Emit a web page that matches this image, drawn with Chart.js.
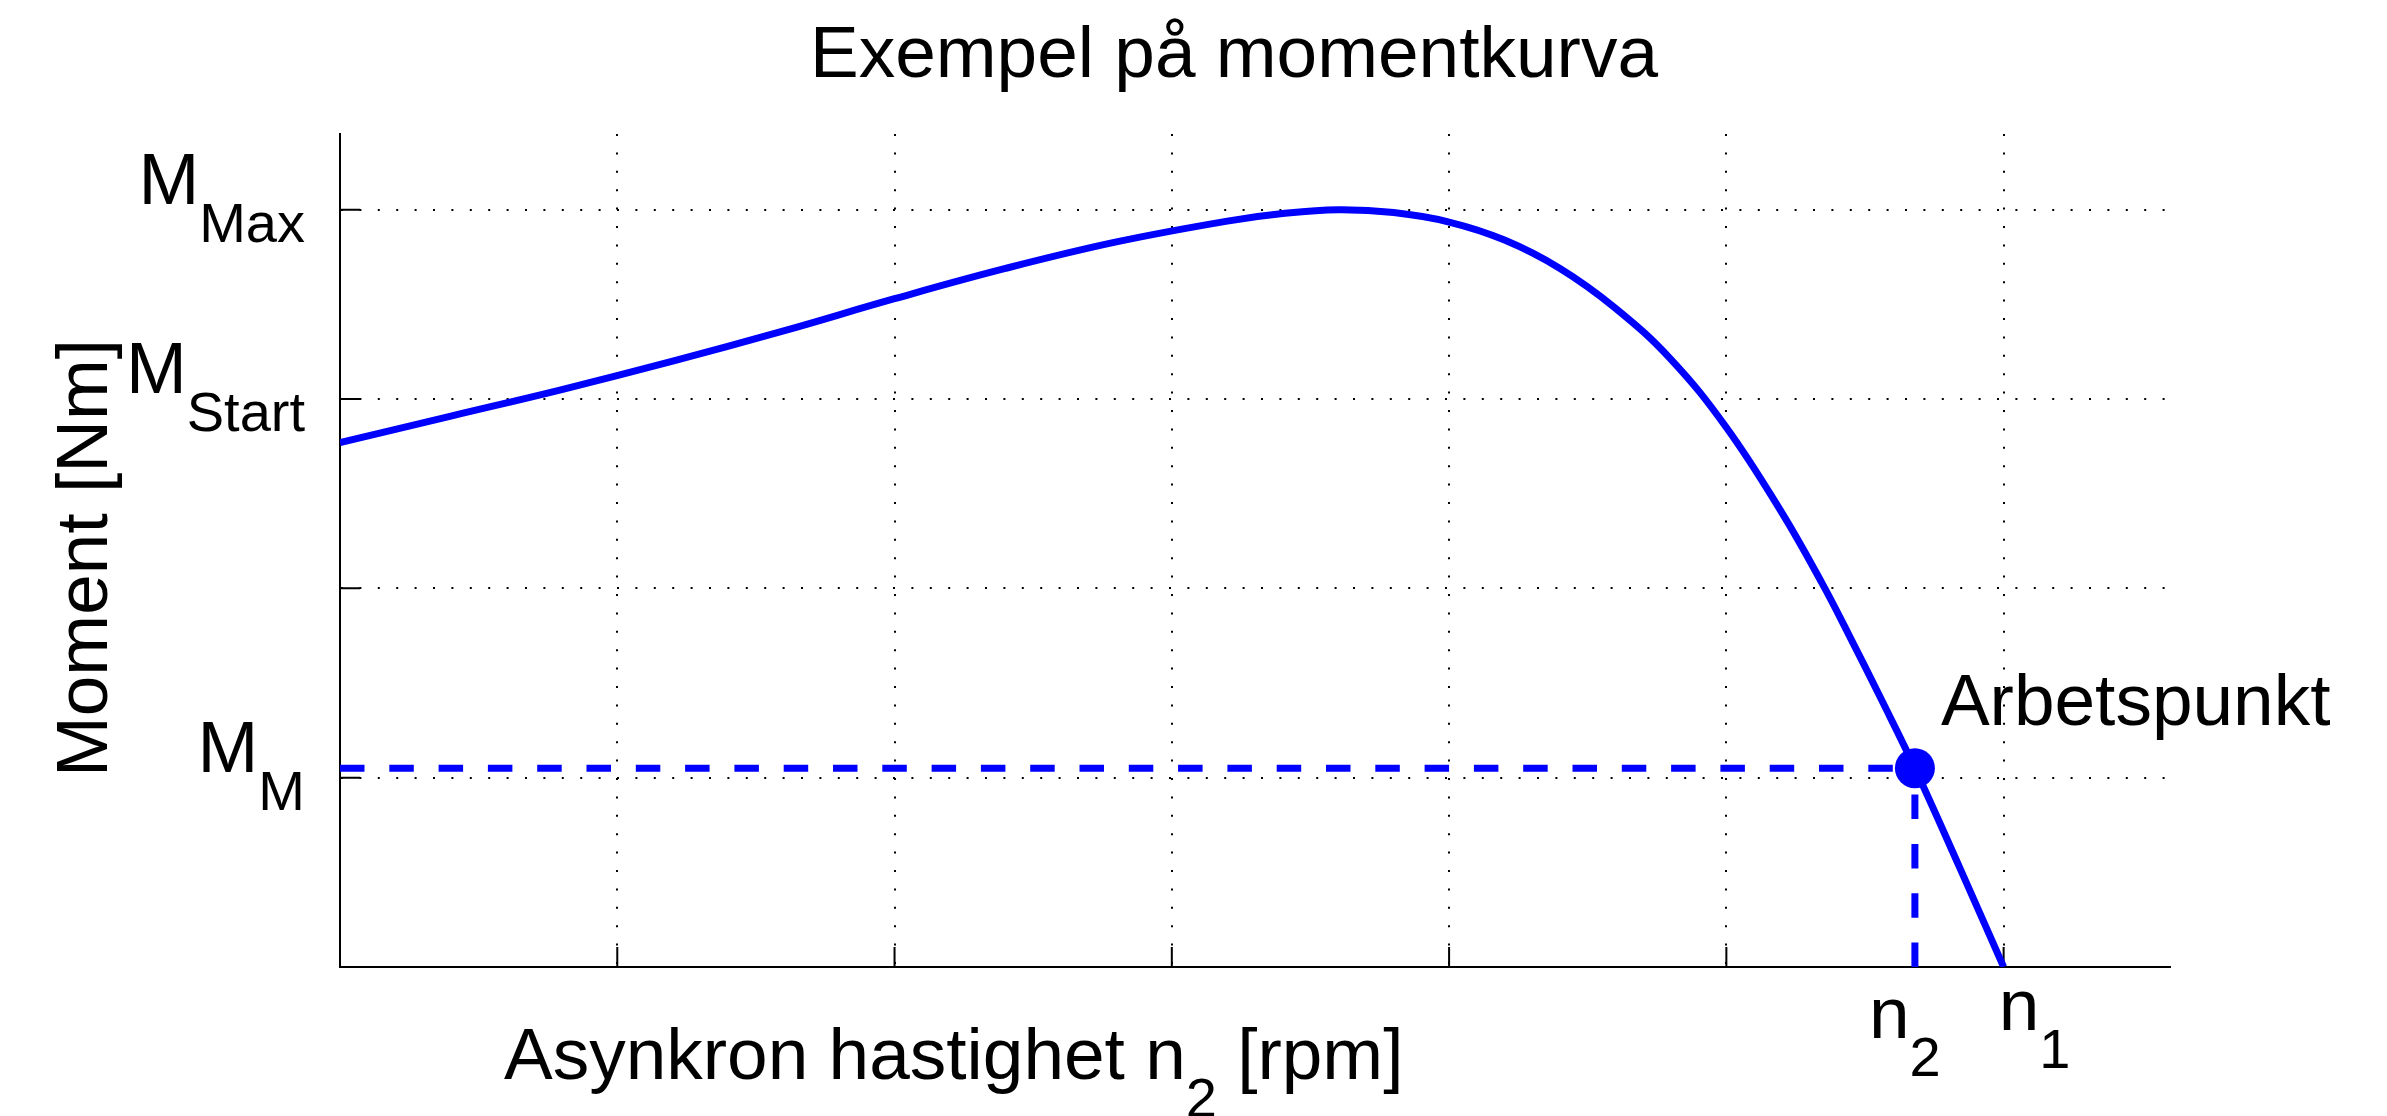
<!DOCTYPE html>
<html>
<head>
<meta charset="utf-8">
<script src="https://cdn.jsdelivr.net/npm/chart.js@4.4.1/dist/chart.umd.min.js"></script>
<style>
  html, body { margin: 0; padding: 0; background: #fff; }
  canvas { display: block; }
</style>
</head>
<body>
<canvas id="momentChart" width="2387" height="1116"></canvas>
<script>
// momentkurva (varvtal i rpm, moment i godtyckliga enheter)
const varvtal = [0, 100, 200, 300, 400, 500, 600, 700, 800, 850, 900, 950, 1000, 1050, 1100, 1150, 1200, 1250, 1300, 1336, 1360, 1390, 1420, 1460, 1500];
const moment  = [2.77, 2.91, 3.05, 3.20, 3.36, 3.53, 3.69, 3.83, 3.94, 3.98, 4.00, 3.985, 3.935, 3.84, 3.69, 3.48, 3.21, 2.85, 2.40, 2.03, 1.76, 1.41, 1.05, 0.53, 0];

const arbetspunktVarv = 1420;
const arbetspunktMoment = 1.05;
const synkronVarv = 1500;

const yTickVarden = [1, 3, 4];
const yTickText = ['M', 'M', 'M'];
const yTickIndex = ['M', 'Start', 'Max'];

const xMax = 1650;
const yMax = 4.4;

const FONT = '"Liberation Sans", Arial, Helvetica, sans-serif';
const STOR = 73;
const LITEN = 56;
const BLA = '#0000ff';

function textMedIndex(ctx, text, index, x, y, align) {
    ctx.font = STOR + 'px ' + FONT;
    const w1 = ctx.measureText(text).width;
    ctx.font = LITEN + 'px ' + FONT;
    const w2 = ctx.measureText(index).width;
    let start = x;
    if (align === 'right') start = x - w1 - w2;
    ctx.textAlign = 'left';
    ctx.textBaseline = 'alphabetic';
    ctx.font = STOR + 'px ' + FONT;
    ctx.fillText(text, start, y);
    ctx.font = LITEN + 'px ' + FONT;
    ctx.fillText(index, start + w1, y + 38);
}

const texter = {
    id: 'texter',
    beforeDatasetsDraw(chart) {
        // tickmarkeringar inåt som i MATLAB
        const { ctx, chartArea, scales } = chart;
        ctx.save();
        ctx.strokeStyle = '#000';
        ctx.lineWidth = 2;
        ctx.beginPath();
        scales.y.ticks.forEach(t => {
            const py = scales.y.getPixelForValue(t.value);
            ctx.moveTo(chartArea.left, py);
            ctx.lineTo(chartArea.left + 20, py);
        });
        scales.x.ticks.forEach(t => {
            const px = scales.x.getPixelForValue(t.value);
            ctx.moveTo(px, chartArea.bottom);
            ctx.lineTo(px, chartArea.bottom - 20);
        });
        ctx.stroke();
        ctx.restore();
    },
    afterDraw(chart) {
        const { ctx, scales } = chart;
        ctx.save();
        ctx.fillStyle = '#000';

        ctx.font = STOR + 'px ' + FONT;
        ctx.textAlign = 'center';
        ctx.textBaseline = 'alphabetic';
        ctx.fillText('Exempel på momentkurva', 1234, 77);

        ctx.save();
        ctx.translate(107, 558);
        ctx.rotate(-Math.PI / 2);
        ctx.fillText('Moment [Nm]', 0, 0);
        ctx.restore();

        // x-axelns titel
        ctx.font = STOR + 'px ' + FONT;
        ctx.textAlign = 'left';
        const del1 = 'Asynkron hastighet n';
        const w1 = ctx.measureText(del1).width;
        ctx.fillText(del1, 504, 1079);
        ctx.font = LITEN + 'px ' + FONT;
        const w2 = ctx.measureText('2').width;
        ctx.fillText('2', 504 + w1, 1117);
        ctx.font = STOR + 'px ' + FONT;
        ctx.fillText(' [rpm]', 504 + w1 + w2, 1079);

        yTickVarden.forEach((v, i) => {
            const py = scales.y.getPixelForValue(v);
            textMedIndex(ctx, yTickText[i], yTickIndex[i], 305, py - 6, 'right');
        });

        const pxN1 = scales.x.getPixelForValue(synkronVarv);
        const pxN2 = scales.x.getPixelForValue(arbetspunktVarv);
        const pyAp = scales.y.getPixelForValue(arbetspunktMoment);
        textMedIndex(ctx, 'n', '1', pxN1 - 5, 1030, 'left');
        textMedIndex(ctx, 'n', '2', pxN2 - 46, 1038, 'left');

        ctx.font = STOR + 'px ' + FONT;
        ctx.textAlign = 'left';
        ctx.fillText('Arbetspunkt', pxN2 + 26, pyAp - 43);
        ctx.restore();
    }
};

const kurva = varvtal.map((v, i) => ({ x: v, y: moment[i] }));

new Chart(document.getElementById('momentChart'), {
    type: 'scatter',
    data: {
        datasets: [
            {
                label: 'Arbetspunkt',
                data: [{ x: arbetspunktVarv, y: arbetspunktMoment }],
                backgroundColor: BLA,
                borderColor: BLA,
                pointRadius: 20,
                pointBorderWidth: 0,
                order: 0
            },
            {
                label: 'Moment',
                data: kurva,
                showLine: true,
                borderColor: BLA,
                borderWidth: 7,
                pointRadius: 0,
                tension: 0.4,
                order: 1
            },
            {
                label: 'MM',
                data: [{ x: 0, y: arbetspunktMoment }, { x: arbetspunktVarv, y: arbetspunktMoment }],
                showLine: true,
                borderColor: BLA,
                borderWidth: 7,
                borderDash: [24.5, 24.8],
                pointRadius: 0,
                order: 2
            },
            {
                label: 'n2',
                data: [{ x: arbetspunktVarv, y: 0 }, { x: arbetspunktVarv, y: arbetspunktMoment }],
                showLine: true,
                borderColor: BLA,
                borderWidth: 7,
                borderDash: [24.5, 24.8],
                pointRadius: 0,
                order: 2
            }
        ]
    },
    options: {
        responsive: false,
        animation: false,
        layout: { padding: { left: 340, right: 217, top: 134, bottom: 149 } },
        plugins: {
            legend: { display: false },
            tooltip: { enabled: false },
            title: { display: false }
        },
        scales: {
            x: {
                type: 'linear',
                min: 0,
                max: xMax,
                ticks: { display: false, stepSize: 250, includeBounds: false },
                grid: { color: '#000', lineWidth: 2, drawTicks: false },
                border: { display: true, color: '#000', width: 2, dash: [2, 16.4] }
            },
            y: {
                type: 'linear',
                min: 0,
                max: yMax,
                ticks: { display: false, stepSize: 1, includeBounds: false },
                grid: { color: '#000', lineWidth: 2, drawTicks: false },
                border: { display: true, color: '#000', width: 2, dash: [2, 16.4] }
            }
        }
    },
    plugins: [texter]
});
</script>
</body>
</html>
